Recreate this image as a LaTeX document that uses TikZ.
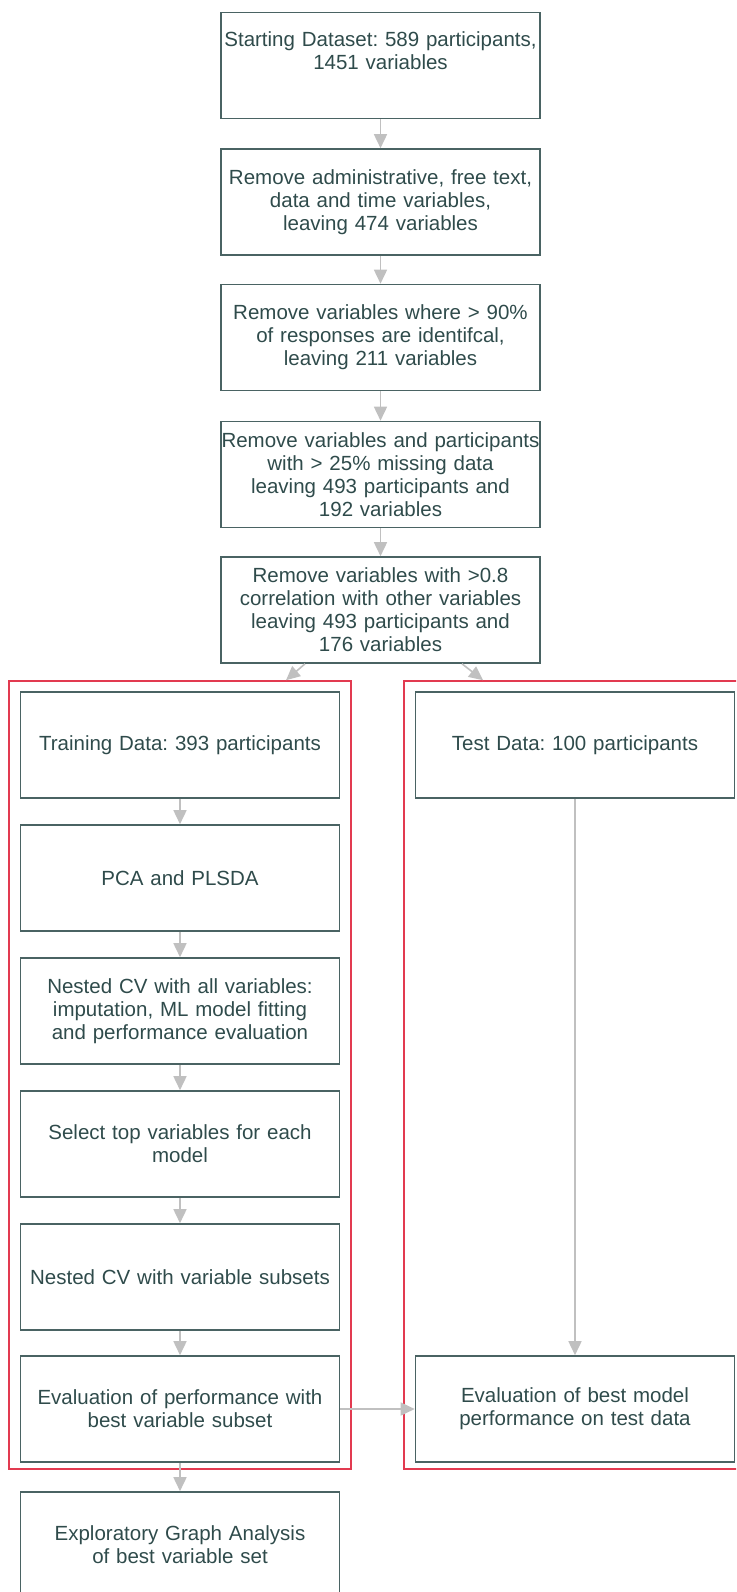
\documentclass[tikz,border=0pt]{standalone}
\usepackage{fontspec}
\setmainfont{Liberation Sans}
\usetikzlibrary{arrows.meta}
\definecolor{boxline}{HTML}{4A6363}
\definecolor{boxtext}{HTML}{2F4B4B}
\definecolor{groupred}{HTML}{E23A50}
\definecolor{arrowgrey}{HTML}{C0C0C0}
\frenchspacing
\begin{document}
\begin{tikzpicture}[x=1pt,y=-1pt,
        stage/.style={draw=boxline,line width=1.6pt,text=boxtext,
            minimum width=319pt,minimum height=106pt,text width=319pt,
            align=center,inner sep=0pt,
            font=\fontsize{20.5}{23}\selectfont},
        group/.style={draw=groupred,line width=1.6pt,inner sep=0pt},
        flow/.style={draw=arrowgrey,line width=1.6pt,
            -{Triangle[length=14pt,width=13pt]}}]
    \clip (0,0) rectangle (736,1592);

    % preprocessing steps
    \node[stage] (start) at (380.5,65.5) {Starting Dataset: 589 participants,\\ 1451 variables\\ \strut};
    \node[stage] (admin) at (380.5,202) {Remove administrative, free text,\\ data and time variables,\\ leaving 474 variables};
    \node[stage] (ident) at (380.5,337.5) {Remove variables where > 90\%\\ of responses are identifcal,\\ leaving 211 variables};
    \node[stage] (missing) at (380.5,474.5) {Remove variables and participants\\ with > 25\% missing data\\ leaving 493 participants and\\ 192 variables};
    \node[stage] (corr) at (380.5,610) {Remove variables with >0.8\\ correlation with other variables\\ leaving 493 participants and\\ 176 variables};

    % training and test groups
    \node[group,minimum width=342pt,minimum height=788pt] (traingrp) at (180,1075) {};
    \node[group,minimum width=344pt,minimum height=788pt] (testgrp) at (576,1075) {};

    \node[stage] (train) at (180,745) {Training Data: 393 participants};
    \node[stage] (pca) at (180,878) {PCA and PLSDA};
    \node[stage] (nestall) at (180,1011) {Nested CV with all variables:\\ imputation, ML model fitting\\ and performance evaluation};
    \node[stage] (select) at (180,1144) {Select top variables for each\\ model};
    \node[stage] (nestsub) at (180,1277) {Nested CV with variable subsets};
    \node[stage] (evaltrain) at (180,1409) {Evaluation of performance with\\ best variable subset};
    \node[stage] (ega) at (180,1545) {Exploratory Graph Analysis\\ of best variable set};

    \node[stage] (test) at (575,745) {Test Data: 100 participants};
    \node[stage] (evaltest) at (575,1409) {Evaluation of best model\\ performance on test data};

    \draw[flow] (start) -- (admin);
    \draw[flow] (admin) -- (ident);
    \draw[flow] (ident) -- (missing);
    \draw[flow] (missing) -- (corr);
    \draw[flow] ([xshift=-75.5pt]corr.south) -- ([xshift=106pt]traingrp.north);
    \draw[flow] ([xshift=81.5pt]corr.south) -- ([xshift=-93pt]testgrp.north);

    \draw[flow] (train) -- (pca);
    \draw[flow] (pca) -- (nestall);
    \draw[flow] (nestall) -- (select);
    \draw[flow] (select) -- (nestsub);
    \draw[flow] (nestsub) -- (evaltrain);
    \draw[flow] (evaltrain) -- (ega);
    \draw[flow] (test) -- (evaltest);
    \draw[flow] (evaltrain) -- (evaltest);
\end{tikzpicture}
\end{document}
